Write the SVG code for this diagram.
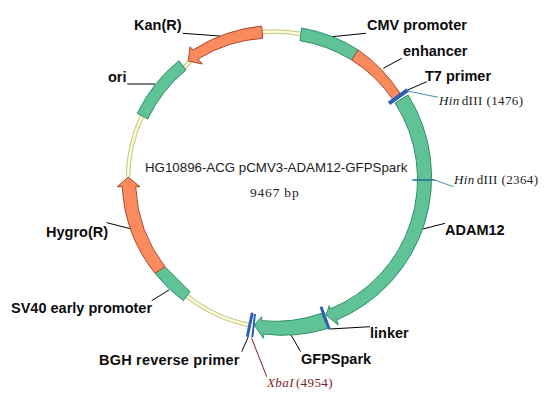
<svg xmlns="http://www.w3.org/2000/svg" width="553" height="407" viewBox="0 0 553 407">
<style>
.g{fill:#5fc397;stroke:#2f8f6b;stroke-width:1}
.o{fill:#fb8a5d;stroke:#a9472f;stroke-width:1}
.bo{fill:none;stroke:#c4c488;stroke-width:4.5}
.bi{fill:none;stroke:#fdfbd8;stroke-width:2.5}
.l{fill:none;stroke:#000;stroke-width:1}
.t{fill:none;stroke:#3f93a5;stroke-width:1}
.p{fill:none;stroke:#2f5fb5;stroke-linecap:butt}
text{font-family:"Liberation Sans",Arial,sans-serif}
.b{font-size:14.5px;font-weight:700;fill:#0c0c0c}
.s{font-family:"Liberation Serif","DejaVu Serif",serif;font-size:13px;letter-spacing:.4px;fill:#222}
.i{font-style:italic}
</style>
<rect width="553" height="407" fill="#fff"/>
<g id="backbone">
<path class="bo" d="M262,32 A147.5,147.5 0 0 1 301,34"/><path class="bi" d="M262,32 A147.5,147.5 0 0 1 301,34"/>
<path class="bo" d="M184,68 L193,58"/><path class="bi" d="M184,68 L193,58"/>
<path class="bo" d="M142,116 A147.5,147.5 0 0 0 128,178"/><path class="bi" d="M142,116 A147.5,147.5 0 0 0 128,178"/>
<path class="bo" d="M187,296 A147.5,147.5 0 0 0 249,325"/><path class="bi" d="M187,296 A147.5,147.5 0 0 0 249,325"/>
</g>
<g id="connectors">
<path class="l" d="M331.7,36.7 L366,33.3"/>
<path class="l" d="M383.3,68.3 L401.7,58.3"/>
<path class="l" d="M407.7,90 L426.7,81.7"/>
<path class="l" d="M182.7,33.3 L220,36"/>
<path class="l" d="M127.3,84 L155,84"/>
<path class="l" d="M106.7,222.7 L131.7,229"/>
<path class="l" d="M151.7,300.7 L169,290"/>
<path class="l" d="M241.7,351.7 L248.3,336.7"/>
<path class="l" d="M291,335 L300.7,351.7"/>
<path class="l" d="M330,329 L370,326.7"/>
<path class="l" d="M421.7,229.3 L445,223.3"/>
<path class="t" d="M407.7,91 L438,97.3"/>
<path class="t" d="M435,180 L453.3,186.7"/>
<path d="M251.7,338.3 L266.7,376.7" fill="none" stroke="#7a1f2a" stroke-width="1"/>
</g>
<g id="cmv"><path class="g" d="M301.7,28 A154,154 0 0 1 358.3,50 L351.7,60 A141,141 0 0 0 300,40.7 Z"/><text class="b" x="367" y="30">CMV promoter</text></g>
<g id="enhancer"><path class="o" d="M358.3,50 A154,154 0 0 1 400,93.3 L393.3,100 A141,141 0 0 0 351.7,60 Z"/><text class="b" x="403" y="56">enhancer</text></g>
<g id="adam12"><path class="g" d="M408,95 A155,155 0 0 1 336.7,320 L338.3,325 L326,315 L329.3,305.7 L330,309 A140,140 0 0 0 395,103 Z"/><text class="b" x="445" y="235">ADAM12</text></g>
<g id="hind2364"><path d="M412.3,180 L435,180" fill="none" stroke="#2a6a95" stroke-width="1.5"/><text class="s" x="454" y="184"><tspan class="i">Hin</tspan><tspan dx="2">dIII (2364)</tspan></text></g>
<g id="t7"><path class="p" stroke-width="4" d="M389,103.3 L407.7,90"/><text class="b" x="425" y="81">T7 primer</text></g>
<g id="hind1476"><text class="s" x="439" y="105"><tspan class="i">Hin</tspan><tspan dx="2">dIII (1476)</tspan></text></g>
<g id="gfpspark"><path class="g" d="M321.7,313.3 A140,140 0 0 1 261.7,320.7 L261.7,316.7 L254.3,325 L263.3,338.3 L263.3,334 A152,152 0 0 0 328.3,328.3 Z"/><text class="b" x="301" y="364">GFPSpark</text></g>
<g id="linker"><path class="p" stroke-width="3" d="M321,306.7 L329.3,329.3"/><text class="b" x="370" y="338">linker</text></g>
<g id="bgh"><path class="p" stroke-width="3" d="M252.3,312.7 L247.3,336.7"/><text class="b" x="99" y="365" style="letter-spacing:.2px">BGH reverse primer</text></g>
<g id="xbai"><path class="p" stroke-width="2" d="M255,314 L252.3,337.3"/><text class="s" x="267" y="387" style="fill:#7a1f2a"><tspan class="i">XbaI</tspan><tspan dx="2">(4954)</tspan></text></g>
<g id="sv40"><path class="g" d="M155,273.3 L165,266.7 L190,291.7 L183.3,300.7 A152,152 0 0 1 155,273.3 Z"/><text class="b" x="11" y="313">SV40 early promoter</text></g>
<g id="hygro"><path class="o" d="M155,273.3 A152,152 0 0 1 122.3,186.7 L117.3,186.7 L128.3,177.3 L140,186.7 L135.7,186.7 A140,140 0 0 0 165,266.7 Z"/><text class="b" x="46" y="237">Hygro(R)</text></g>
<g id="ori"><path class="g" d="M179,60.7 L186,70 A141,141 0 0 0 147.7,119 L137.3,113.3 A153,153 0 0 1 179,60.7 Z"/><text class="b" x="108" y="82">ori</text></g>
<g id="kan"><path class="o" d="M261.7,26 A154,154 0 0 0 193,50 L190,46.7 L188.3,61 L202.3,64 L198,59 A141,141 0 0 1 262.7,38.3 Z"/><text class="b" x="134" y="30">Kan(R)</text></g>
<g id="title"><text x="145" y="172" font-size="13.3px" fill="#222">HG10896-ACG pCMV3-ADAM12-GFPSpark</text><text class="s" x="250" y="197" style="font-size:13.5px;letter-spacing:.8px">9467 bp</text></g>
</svg>
